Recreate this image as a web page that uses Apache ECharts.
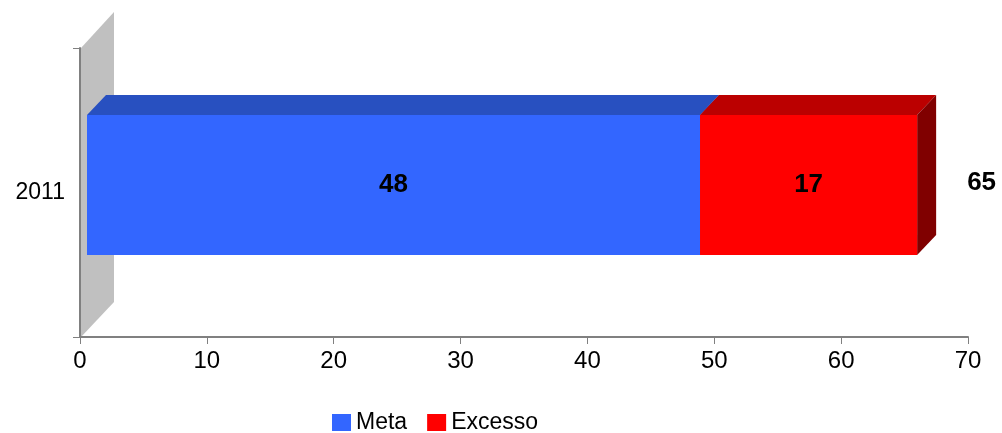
<!DOCTYPE html>
<html>
<head>
<meta charset="utf-8">
<script src="https://cdn.jsdelivr.net/npm/echarts@6/dist/echarts.min.js"></script>
<style>html,body{margin:0;padding:0;background:#fff}#c{width:1002px;height:433px}</style>
</head>
<body>
<div id="c"></div>
<script>
var categories = ['2011'];
var meta = [48];
var excesso = [17];
var totals = [65];
var xTicks = [0, 10, 20, 30, 40, 50, 60, 70];

var FONT = '"Liberation Sans", Arial, sans-serif';
var DX = 19, DY = 20;

function barRender(front, topC, sideC, isLast) {
  return function (params, api) {
    var c = api.value(0), s = api.value(1), e = api.value(2), lab = api.value(3), tot = api.value(4);
    var p0 = api.coord([s, c]);
    var p1 = api.coord([e, c]);
    var band = api.size([0, 1])[1];
    var h = band * 0.511;
    var x0 = p0[0], x1 = p1[0], yt = p0[1] - h / 2, yb = p0[1] + h / 2;
    var ch = [
      {type: 'polygon', shape: {points: [[x0, yt], [x0 + DX, yt - DY], [x1 + DX, yt - DY], [x1, yt]]}, style: {fill: topC}},
      {type: 'polygon', shape: {points: [[x1, yt], [x1 + DX, yt - DY], [x1 + DX, yb - DY], [x1, yb]]}, style: {fill: sideC}},
      {type: 'rect', shape: {x: x0, y: yt, width: x1 - x0, height: yb - yt}, style: {fill: front}},
      {type: 'text', x: (x0 + x1) / 2, y: p0[1], style: {text: String(lab), fill: '#000', font: 'bold 26px ' + FONT, textAlign: 'center', textVerticalAlign: 'middle'}}
    ];
    if (isLast) {
      ch.push({type: 'text', x: x1 + 50, y: p0[1] - 2, style: {text: String(tot), fill: '#000', font: 'bold 26px ' + FONT, textAlign: 'left', textVerticalAlign: 'middle'}});
    }
    return {type: 'group', children: ch};
  };
}

var metaData = categories.map(function (c, i) { return [i, 0, meta[i], meta[i], totals[i]]; });
var excData = categories.map(function (c, i) { return [i, meta[i], meta[i] + excesso[i], excesso[i], totals[i]]; });

var chart = echarts.init(document.getElementById('c'), null, {renderer: 'canvas'});
chart.setOption({
  animation: false,
  backgroundColor: '#fff',
  legend: {
    data: ['Meta', 'Excesso'],
    left: 332, top: 411, padding: 0,
    icon: 'rect', itemWidth: 19, itemHeight: 17, itemGap: 20,
    textStyle: {fontSize: 23, color: '#000', fontFamily: FONT}
  },
  grid: [
    {left: 80, right: 34, top: 48, bottom: 96, containLabel: false},
    {left: 87, right: 21, top: 48, bottom: 111, containLabel: false}
  ],
  xAxis: [
    {type: 'value', gridIndex: 0, min: 0, max: 70, interval: 10, z: 5,
     axisLine: {show: true, lineStyle: {color: '#808080', width: 2}},
     axisTick: {show: true, length: 7, lineStyle: {color: '#808080', width: 1}},
     splitLine: {show: false},
     axisLabel: {fontSize: 24, color: '#000', fontFamily: FONT, margin: 12,
       formatter: function (v) { return xTicks.indexOf(v) >= 0 ? String(v) : ''; }}},
    {type: 'value', gridIndex: 1, min: 0, max: 70, show: false}
  ],
  yAxis: [
    {type: 'category', gridIndex: 0, data: categories, z: 5,
     axisLine: {show: true, lineStyle: {color: '#808080', width: 2}},
     axisTick: {show: true, length: 7, lineStyle: {color: '#808080', width: 1}},
     axisLabel: {fontSize: 23, color: '#000', fontFamily: FONT, margin: 15}},
    {type: 'category', gridIndex: 1, data: categories, show: false}
  ],
  series: [
    {type: 'custom', name: 'wall', xAxisIndex: 0, yAxisIndex: 0, z: 1, silent: true,
     data: [[0, 0]],
     renderItem: function (params, api) {
       var cs = params.coordSys;
       var x = cs.x, y = cs.y, h = cs.height;
       return {type: 'polygon', shape: {points: [[x + 1, y], [x + 34, y - 36], [x + 34, y + h - 35], [x + 1, y + h]]}, style: {fill: '#C0C0C0'}};
     }},
    {type: 'custom', name: 'Meta', xAxisIndex: 1, yAxisIndex: 1, z: 2,
     itemStyle: {color: '#3366FF'},
     encode: {x: [1, 2], y: 0},
     data: metaData,
     renderItem: barRender('#3366FF', '#2850C0', '#2850C0', false)},
    {type: 'custom', name: 'Excesso', xAxisIndex: 1, yAxisIndex: 1, z: 2,
     itemStyle: {color: '#FF0000'},
     encode: {x: [1, 2], y: 0},
     data: excData,
     renderItem: barRender('#FF0000', '#BB0000', '#800000', true)}
  ]
});
</script>
</body>
</html>
